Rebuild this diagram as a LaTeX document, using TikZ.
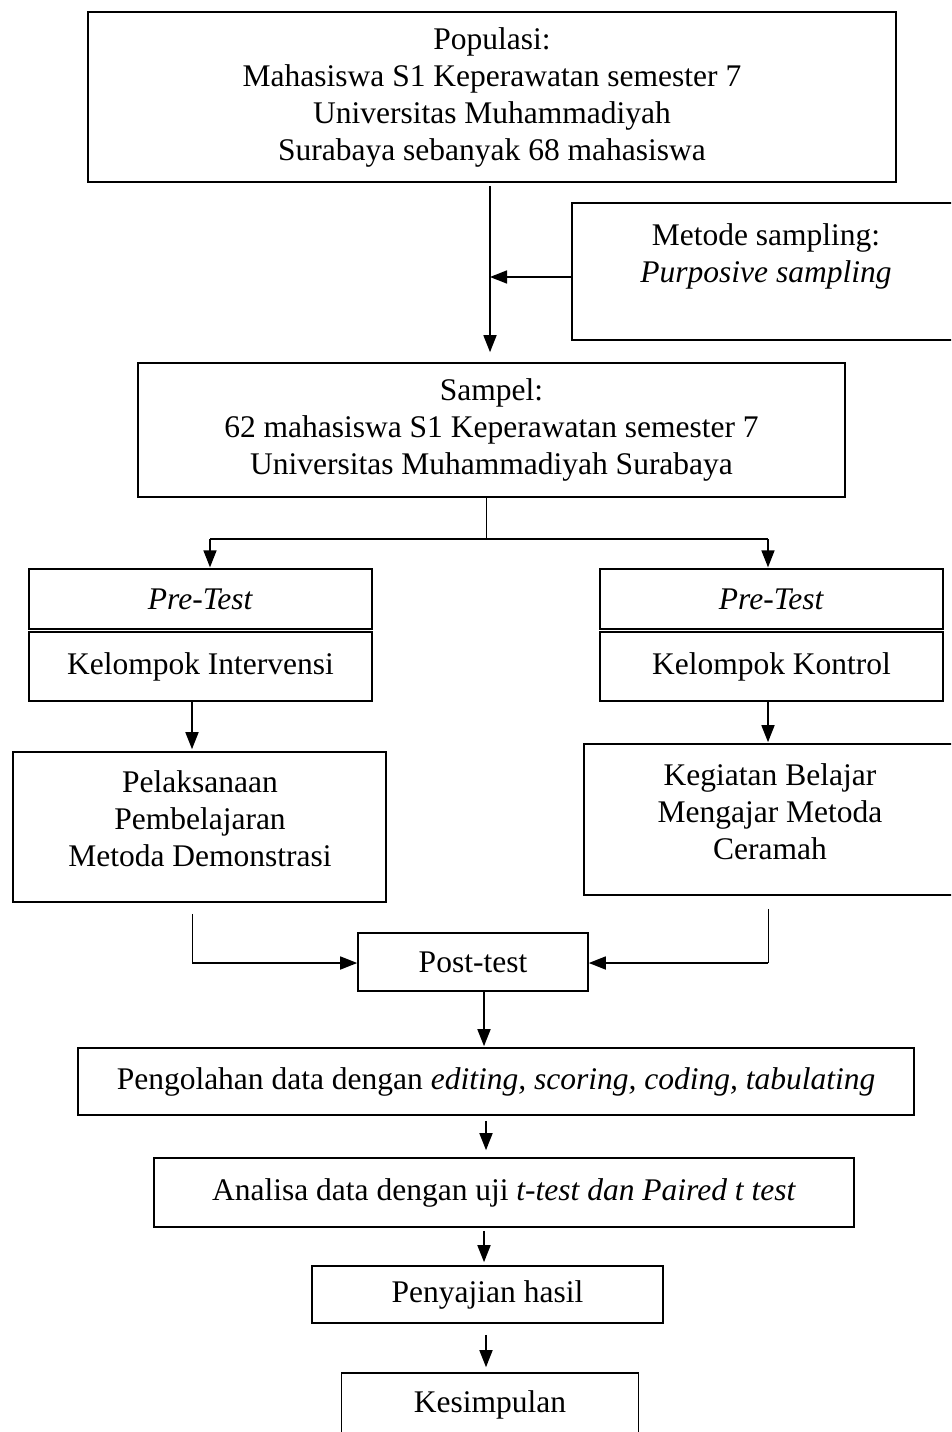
\documentclass[tikz,border=0pt]{standalone}
\usepackage{fontspec}
\setmainfont{Liberation Serif}
\usetikzlibrary{arrows.meta}
\begin{document}
\begin{tikzpicture}[x=1pt,y=-1pt,
  every node/.style={font=\fontsize{31.5}{37}\selectfont, align=center, inner sep=0pt},
  box/.style={draw, line width=1.6pt},
  conn/.style={line width=1.6pt},
  thinconn/.style={line width=1pt},
  arr/.style={-{Triangle[length=17pt,width=13pt]}}
]
\clip (0,0) rectangle (951,1432);
\fill[white] (0,0) rectangle (951,1432);

% boxes
\node[box, minimum width=808pt, minimum height=170pt] (pop) at (492,97) {Populasi:\\Mahasiswa S1 Keperawatan semester 7\\Universitas Muhammadiyah\\Surabaya sebanyak 68 mahasiswa};
\node[box, minimum width=388pt, minimum height=137pt] (met) at (766,271.5) {};
\node (metT) at (766,256) {Metode sampling:\\\textit{Purposive sampling}};
\node[box, minimum width=707pt, minimum height=134pt] (sam) at (491.5,430) {Sampel:\\62 mahasiswa S1 Keperawatan semester 7\\Universitas Muhammadiyah Surabaya};

\node[box, line width=1.3pt, minimum width=343pt, minimum height=60pt] (preL) at (200.5,599) {\textit{Pre-Test}};
\node[box, line width=1.3pt, minimum width=343pt, minimum height=69pt] (kelL) at (200.5,666.5) {Kelompok Intervensi};
\node[box, line width=1.3pt, minimum width=343pt, minimum height=60pt] (preR) at (771.5,599) {\textit{Pre-Test}};
\node[box, line width=1.3pt, minimum width=343pt, minimum height=69pt] (kelR) at (771.5,666.5) {Kelompok Kontrol};

\node[box, minimum width=373pt, minimum height=150pt] (pel) at (199.5,827) {};
\node (pelT) at (200,819) {Pelaksanaan\\Pembelajaran\\Metoda Demonstrasi};
\node[box, minimum width=372pt, minimum height=151pt] (keg) at (770,819.5) {};
\node (kegT) at (770,812) {Kegiatan Belajar\\Mengajar Metoda\\Ceramah};

\node[box, minimum width=230pt, minimum height=58pt] (post) at (473,962) {Post-test};
\node[box, minimum width=836pt, minimum height=67pt] (olah) at (496,1081.5) {Pengolahan data dengan \textit{editing, scoring, coding, tabulating}};
\node[box, minimum width=700pt, minimum height=69pt] (anal) at (504,1192.5) {Analisa data dengan uji \textit{t-test dan Paired t test}};
\node[box, minimum width=351pt, minimum height=57pt] (saji) at (487.5,1294.5) {Penyajian hasil};
\node[box, minimum width=297pt, minimum height=90pt] (kes) at (490,1418) {};
\node (kesT) at (490,1405) {Kesimpulan};

% helper coordinates
\coordinate (c1) at (490,0);
\coordinate (j1) at (490,277);
\coordinate (c2) at (486,539);
\coordinate (bl) at (210,539);
\coordinate (br) at (768,539);
\coordinate (c3) at (192,0);
\coordinate (c4) at (768,0);
\coordinate (ml) at (192,963);
\coordinate (mr) at (768,963);
\coordinate (c5) at (484,0);
\coordinate (c6) at (486,0);

% connectors
\draw[conn, arr, shorten <=3pt, shorten >=10pt] (pop.south -| c1) -- (sam.north -| c1);
\draw[conn, arr] (met.west |- j1) -- (j1);
\draw[thinconn] (sam.south -| c2) -- (c2);
\draw[conn] (bl) -- (br);
\draw[conn, arr, shorten >=1pt] (bl) -- (preL.north -| bl);
\draw[conn, arr, shorten >=1pt] (br) -- (preR.north -| br);
\draw[conn, arr, shorten >=2pt] (kelL.south -| c3) -- (pel.north -| c3);
\draw[conn, arr, shorten >=1pt] (kelR.south -| c4) -- (keg.north -| c4);
\draw[thinconn, shorten <=11pt] (pel.south -| ml) -- (ml);
\draw[conn, arr] (ml) -- (post.west |- ml);
\draw[thinconn, shorten <=13pt] (keg.south -| mr) -- (mr);
\draw[conn, arr] (mr) -- (post.east |- mr);
\draw[conn, arr, shorten >=1pt] (post.south -| c5) -- (olah.north -| c5);
\draw[conn, arr, shorten <=5pt, shorten >=7pt] (olah.south -| c6) -- (anal.north -| c6);
\draw[conn, arr, shorten <=3pt, shorten >=3pt] (anal.south -| c5) -- (saji.north -| c5);
\draw[conn, arr, shorten <=11pt, shorten >=5pt] (saji.south -| c6) -- (kes.north -| c6);
\end{tikzpicture}
\end{document}
